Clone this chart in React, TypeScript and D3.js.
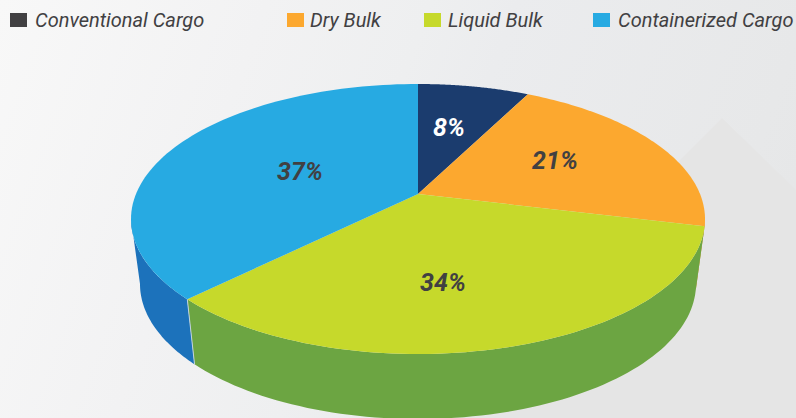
import React from "react";
import * as d3 from "d3";

const categories = ["Conventional Cargo", "Dry Bulk", "Liquid Bulk", "Containerized Cargo"];
const shares = [7.5, 21.3, 33.8, 37.4];
const topColors = ["#1b3c6e", "#fca82f", "#c6d92b", "#27aae2"];
const sideColors = ["#16325c", "#d98a20", "#6ca542", "#1c72bb"];
const legendColors = ["#414042", "#fca82f", "#c6d92b", "#27aae2"];
const legendSwatchX = [10, 287, 424, 593];
const legendTextX = [35, 310, 448, 618];

const W = 796, H = 418;
const cx = 418, cy = 219, rx = 287, ry = 135;
const bx = 418, by = 284, brx = 278, bry = 135;
const a = -25 / 135;

// projective map of the pie's flat disc: the centre sits above the ellipse's centre
function unit(theta: number): [number, number] {
  const u = Math.sin(theta), v = -Math.cos(theta);
  const d = 1 + a * v;
  return [(u * Math.sqrt(1 - a * a)) / d, (v + a) / d];
}
const top = (t: number): [number, number] => {
  const [u, v] = unit(t);
  return [cx + rx * u, cy + ry * v];
};
const bottom = (t: number): [number, number] => {
  const [u, v] = unit(t);
  return [bx + brx * u, by + bry * v];
};
const range = (s: number, e: number, n = 80) => d3.range(n + 1).map((i) => s + ((e - s) * i) / n);
const line = d3.line();

const pie = d3.pie<number>().sort(null)(shares);
const apex: [number, number] = [cx, cy + a * ry];

const wedge = (s: number, e: number) => line([apex, ...range(s, e).map(top)]) + "Z";

// visible wall runs between the ellipse's left and right tangents
const tR = Math.acos(a);
const tL = 2 * Math.PI - tR;
const wall = (s: number, e: number) => {
  const ss = Math.max(s, tR), ee = Math.min(e, tL);
  if (ee <= ss) return null;
  return line([...range(ss, ee).map(top), ...range(ss, ee).reverse().map(bottom)]) + "Z";
};

const labelPos = [
  [449, 136],
  [555, 169],
  [443, 291],
  [300, 180],
];

export default function App() {
  const font = "Roboto, 'Open Sans', sans-serif";
  return (
    <svg width={W} height={H} viewBox={`0 0 ${W} ${H}`} style={{ position: "absolute", left: 0, top: 0, display: "block" }}>
      <defs>
        <linearGradient id="bg" gradientUnits="userSpaceOnUse" x1="0" y1="0" x2="760" y2="280">
          <stop offset="0" stopColor="#f8f8f8" />
          <stop offset="0.31" stopColor="#f2f2f3" />
          <stop offset="0.5" stopColor="#eeeff0" />
          <stop offset="0.6" stopColor="#ebecee" />
          <stop offset="0.94" stopColor="#e7e8e9" />
          <stop offset="1" stopColor="#e6e7e8" />
        </linearGradient>
      </defs>
      <rect width={W} height={H} fill="url(#bg)" />
      <path d="M722,118 L796,190 L796,418 L422,418 Z" fill="#e5e5e5" />
      {pie.map((p, i) => {
        const d = wall(p.startAngle, p.endAngle);
        return d ? <path key={i} d={d} fill={sideColors[i]} /> : null;
      })}
      {(() => {
        const t = pie[3].startAngle;
        return <path d={line([top(t), bottom(t)]) as string} stroke="#c4d4dc" strokeWidth={1} fill="none" />;
      })()}
      {pie.map((p, i) => (
        <path key={i} d={wedge(p.startAngle, p.endAngle)} fill={topColors[i]} />
      ))}
      {shares.map((s, i) => (
        <text key={i} x={labelPos[i][0]} y={labelPos[i][1]} textAnchor="middle" fontFamily={font} fontStyle="italic" fontWeight={700} fontSize={25} fill={i === 0 ? "#ffffff" : "#414042"}>
          {Math.round(s)}%
        </text>
      ))}
      {categories.map((c, i) => (
        <g key={c}>
          <rect x={legendSwatchX[i]} y={13} width={17} height={14} fill={legendColors[i]} />
          <text x={legendTextX[i]} y={27} fontFamily={font} fontStyle="italic" fontSize={20} fill="#414042">
            {c}
          </text>
        </g>
      ))}
    </svg>
  );
}
